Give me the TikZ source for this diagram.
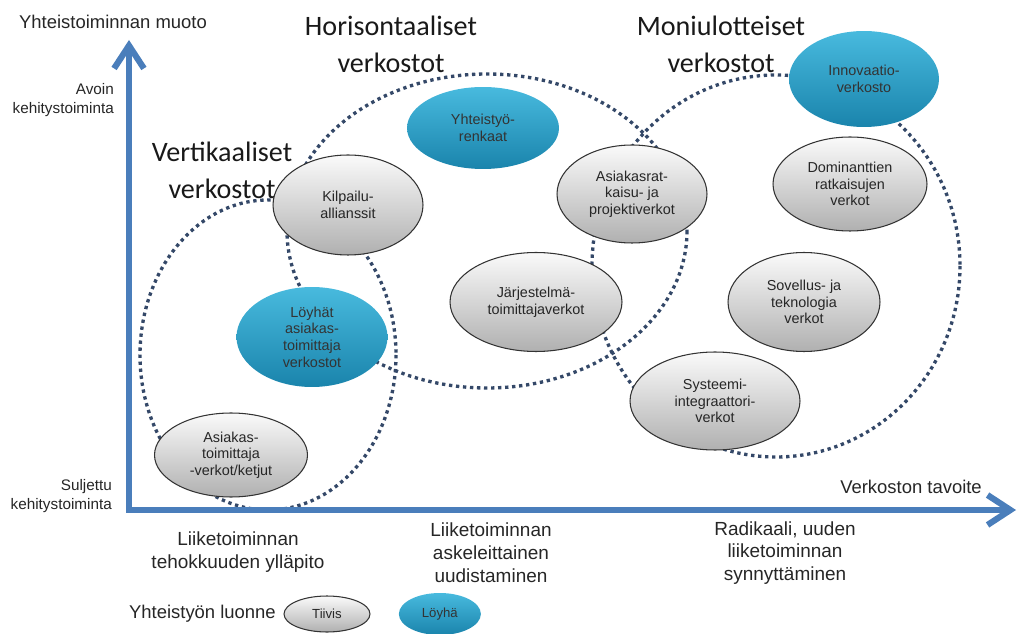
\documentclass[tikz,border=0pt]{standalone}
\usepackage{fontspec}
\setmainfont{Liberation Sans}
\newfontfamily\titlefont{Carlito}
\usetikzlibrary{arrows.meta,positioning,shapes.geometric}
\definecolor{AxisBlue}{RGB}{74,126,187}
\definecolor{RingSlate}{RGB}{52,72,104}
\definecolor{LooseTop}{RGB}{72,186,222}
\definecolor{LooseBottom}{RGB}{26,132,172}
\definecolor{TightTop}{RGB}{250,250,250}
\definecolor{TightBottom}{RGB}{176,176,176}
\tikzset{
  tight/.style={ellipse,draw=black!80,line width=0.6pt,top color=TightTop,
    bottom color=TightBottom,inner sep=0pt,align=center,text=black!85,
    font=\fontsize{8.2}{9.5}\selectfont},
  loose/.style={ellipse,top color=LooseTop,bottom color=LooseBottom,
    inner sep=0pt,align=center,text=black!80,font=\fontsize{8.2}{9.5}\selectfont},
  ring/.style={draw=RingSlate,line width=1.9pt,dash pattern=on 1.9pt off 2.1pt},
  axis/.style={draw=AxisBlue,line width=3.5pt,
    arrows={Straight Barb[length=13pt,width=17pt]-Straight Barb[length=13pt,width=17pt]}},
  group/.style={font=\titlefont\fontsize{16}{21}\selectfont,align=center,text=black!90},
  axislabel/.style={font=\fontsize{10.5}{12.5}\selectfont,align=center,text=black!85},
  sidelabel/.style={font=\fontsize{8.7}{11}\selectfont,align=right,text=black!85},
  goal/.style={font=\fontsize{10.8}{13}\selectfont,align=center,text=black!85}
}

\begin{document}
\begin{tikzpicture}[x=0.02cm,y=-0.02cm]
  \useasboundingbox (0,0) rectangle (1020,634);

  % dotted network groups
  \draw[ring] (268,355) ellipse [x radius=128,y radius=155];
  \draw[ring] (487,231) ellipse [x radius=200,y radius=157];
  \draw[ring] (776,266) ellipse [x radius=184,y radius=191];

  % axes
  \coordinate (ytip) at (129,40);
  \coordinate (origin) at (129,510);
  \coordinate (xtip) at (1016,510);
  \draw[axis] (ytip) -- (origin) -- (xtip);

  \node[axislabel] (yname) at (113,22) {Yhteistoiminnan muoto};
  \node[sidelabel,anchor=east] (open) at (120,100) {Avoin\\kehitystoiminta};
  \node[sidelabel,anchor=east] (closed) at (118,496) {Suljettu\\kehitystoiminta};
  \node[axislabel] (xname) at (911,487) {Verkoston tavoite};

  \node[goal] (maintain) at (238,552) {Liiketoiminnan\\tehokkuuden ylläpito};
  \node[goal] (renew) at (491,553) {Liiketoiminnan\\askeleittainen\\uudistaminen};
  \node[goal] (radical) at (785,553) {Radikaali, uuden\\liiketoiminnan\\synnyttäminen};

  % group titles
  \node[group] (horiz) at (391,44) {Horisontaaliset\\verkostot};
  \node[group] (multi) at (721,44) {Moniulotteiset\\verkostot};
  \node[group] (vert) at (222,170) {Vertikaaliset\\verkostot};

  % networks
  \node[loose,minimum width=3.04cm,minimum height=1.64cm] (rings) at (483,128) {Yhteistyö-\\renkaat};
  \node[loose,minimum width=3cm,minimum height=1.92cm] (innov) at (864,79) {Innovaatio-\\verkosto};
  \node[tight,minimum width=3cm,minimum height=2cm] (alliance) at (348,205) {Kilpailu-\\allianssit};
  \node[tight,minimum width=3cm,minimum height=1.96cm] (project) at (632,194) {Asiakasrat-\\kaisu- ja\\projektiverkot};
  \node[tight,minimum width=3.08cm,minimum height=1.88cm] (dominant) at (850,184) {Dominanttien\\ratkaisujen\\verkot};
  \node[loose,minimum width=3.02cm,minimum height=2cm] (loosesup) at (312,337) {Löyhät\\asiakas-\\toimittaja\\verkostot};
  \node[tight,minimum width=3.44cm,minimum height=1.98cm] (system) at (536,302) {Järjestelmä-\\toimittajaverkot};
  \node[tight,minimum width=3.04cm,minimum height=1.98cm] (applic) at (804,302) {Sovellus- ja\\teknologia\\verkot};
  \node[tight,minimum width=3.4cm,minimum height=1.96cm] (integr) at (715,401) {Systeemi-\\integraattori-\\verkot};
  \node[tight,minimum width=3.06cm,minimum height=1.68cm] (chain) at (231,455) {Asiakas-\\toimittaja\\-verkot/ketjut};

  % legend
  \node[tight,minimum width=1.72cm,minimum height=0.72cm,font=\fontsize{7.5}{9}\selectfont] (tiivis) at (327,614) {Tiivis};
  \node[loose,minimum width=1.64cm,minimum height=0.84cm,font=\fontsize{7.5}{9}\selectfont,right=0.56cm of tiivis] (loyha) {Löyhä};
  \node[axislabel,left=0.03cm of tiivis] (luonne) {Yhteistyön luonne};
\end{tikzpicture}
\end{document}
